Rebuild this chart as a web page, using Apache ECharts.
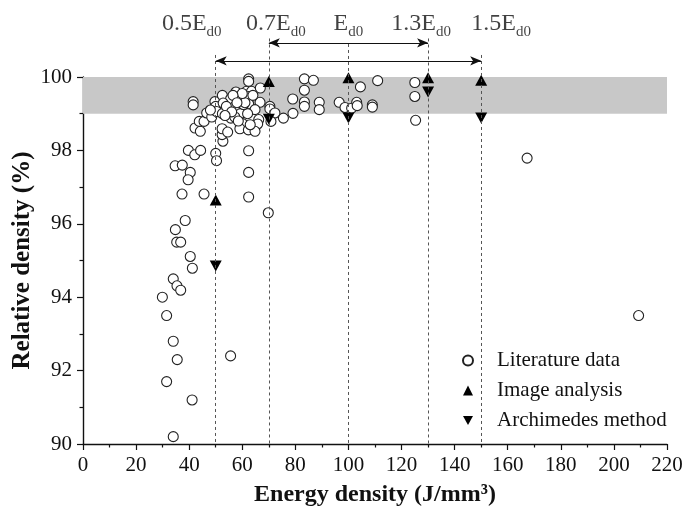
<!DOCTYPE html>
<html>
<head>
<meta charset="utf-8">
<script src="https://cdn.jsdelivr.net/npm/echarts@6/dist/echarts.min.js"></script>
<style>
  html, body { margin: 0; padding: 0; background: #ffffff; }
  #chart { width: 694px; height: 513px; }
</style>
</head>
<body>
<div id="chart"></div>
<script>
// Relative density vs. volumetric energy density
const literatureData = [
  [29.9, 94.0], [31.5, 93.5], [31.5, 91.7], [34.0, 94.5], [34.0, 92.8], [34.0, 90.2],
  [35.4, 94.31], [36.8, 94.19], [35.5, 92.3], [41.1, 91.2], [40.4, 95.11], [41.2, 94.79],
  [34.8, 95.84], [35.3, 95.5], [36.8, 95.5], [38.5, 96.09], [37.3, 96.81], [45.6, 96.81],
  [34.7, 97.58], [37.4, 97.6], [40.4, 97.4], [39.6, 97.2], [39.7, 98.0], [42.1, 97.88],
  [44.3, 98.0], [55.6, 92.4],
  [50.0, 97.92], [50.3, 97.72], [62.4, 97.99], [62.4, 97.4], [62.4, 96.73], [69.8, 96.3],
  [52.7, 98.25], [52.4, 98.43], [52.4, 98.59], [54.5, 98.5], [42.2, 98.61], [44.2, 98.52],
  [43.8, 98.79], [45.6, 98.79], [46.6, 99.02], [48.5, 98.91], [41.5, 99.33], [41.5, 99.24],
  [49.7, 99.33], [50.0, 99.2], [52.5, 99.5], [55.6, 99.4], [52.8, 99.29], [57.6, 99.59],
  [61.6, 99.61], [63.5, 99.61], [62.4, 99.95], [62.4, 99.88], [66.8, 99.7], [59.1, 99.4],
  [62.5, 99.47], [66.7, 99.31], [62.4, 99.27], [57.2, 99.2], [64.8, 99.11], [70.4, 99.2],
  [70.4, 99.13], [50.3, 99.06], [52.5, 99.0], [59.3, 99.0], [62.0, 99.0], [72.3, 99.02],
  [75.5, 98.88], [79.1, 99.01], [55.7, 98.88], [57.2, 98.91], [66.2, 98.84], [60.1, 98.73],
  [65.8, 98.72], [59.1, 98.59], [62.3, 98.56], [64.8, 98.52], [70.8, 98.79], [54.0, 99.2],
  [60.5, 99.25], [56.0, 99.05], [58.5, 98.8], [61.0, 99.3], [64.0, 99.5], [53.5, 98.95],
  [60.0, 99.55], [56.5, 99.5], [63.0, 98.7], [58.0, 99.3], [48.0, 99.1],
  [79.0, 99.4], [83.4, 99.95], [86.8, 99.91], [83.4, 99.64], [83.4, 99.32], [83.4, 99.2],
  [89.0, 99.31], [89.0, 99.11], [96.5, 99.31], [98.7, 99.17], [101.2, 99.15], [103.1, 99.31],
  [103.3, 99.22], [104.5, 99.73], [109.0, 99.24], [109.0, 99.18], [111.0, 99.9],
  [125.0, 99.85], [125.0, 99.47], [125.3, 98.82], [167.3, 97.79], [209.3, 93.5]
];
const imageAnalysisData = [[50, 96.65], [70, 99.88], [100, 99.98], [130, 99.98], [150, 99.91]];
const archimedesData = [[50, 94.85], [70, 98.85], [100, 98.88], [130, 99.59], [150, 98.88]];

// Reference energies as multiples of the nominal energy density E_d0 = 100 J/mm3
const referenceEnergies = [50, 70, 100, 130, 150];
const referencePrefixes = ['0.5', '0.7', '', '1.3', '1.5'];
const innerWindow = [70, 130];
const outerWindow = [50, 150];
const targetBand = [99, 100];

const xTicks = { min: 0, max: 220, interval: 20 };
const yTicks = { min: 90, max: 100, interval: 2 };

const FONT = '"Liberation Serif", "Times New Roman", serif';
const plotLeft = 83, plotRight = 667, plotTop = 77, plotBottom = 444;
const unitY = (plotBottom - plotTop) / (yTicks.max - yTicks.min);
const headroom = 2; // extra y units above the plot used for the annotation layer

// Vertical reach of the annotation marks (in y units, above the 100 line)
const lineTopInner = 101.05, lineTopOuter = 100.6, lineTopCenter = 100.9;
const arrowInnerY = 100.93, arrowOuterY = 100.44, labelY = 101.45;
const labelShift = [-24, 7, 0, -7, 20];

const chart = echarts.init(document.getElementById('chart'), null, { renderer: 'canvas' });

const axisCommon = {
  axisLine: { show: true, onZero: false, lineStyle: { color: '#111', width: 1.4 } },
  axisTick: { show: true, inside: false, length: 6, lineStyle: { color: '#111', width: 1.2 } },
  minorTick: { show: true, splitNumber: 2, length: 3.5, lineStyle: { color: '#111', width: 1.2 } },
  splitLine: { show: false },
  axisLabel: { color: '#111', fontFamily: FONT, fontSize: 21 }
};

const dashed = { color: '#555', width: 1, type: [3, 3] };

const guideLines = referenceEnergies.map(function (e) {
  let top = lineTopInner;
  if (e === outerWindow[0] || e === outerWindow[1]) top = lineTopOuter;
  if (e === 100) top = lineTopCenter;
  return [{ coord: [e, top] }, { coord: [e, yTicks.min] }];
});

const arrowStyle = { color: '#111', width: 1.2, type: 'solid' };

const labelData = referenceEnergies.map(function (e, i) {
  return {
    value: [e, labelY],
    label: {
      show: true,
      position: 'inside',
      offset: [labelShift[i], 0],
      formatter: '{m|' + referencePrefixes[i] + 'E}{s|d0}',
      rich: {
        m: { fontFamily: FONT, fontSize: 24, color: '#111', lineHeight: 24 },
        s: { fontFamily: FONT, fontSize: 15, color: '#111', lineHeight: 15, padding: [16, 0, 0, 0] }
      }
    }
  };
});

const option = {
  backgroundColor: '#ffffff',
  animation: false,
  grid: [
    { left: plotLeft, right: 694 - plotRight, top: plotTop, bottom: 513 - plotBottom, outerBoundsMode: 'none', containLabel: false },
    { left: plotLeft, right: 694 - plotRight, top: plotTop - headroom * unitY, bottom: 513 - plotBottom, outerBoundsMode: 'none', containLabel: false }
  ],
  xAxis: [
    Object.assign({}, axisCommon, {
      type: 'value', gridIndex: 0, min: xTicks.min, max: xTicks.max, interval: xTicks.interval,
      axisLabel: Object.assign({}, axisCommon.axisLabel, { margin: 11 }),
      name: 'Energy density (J/mm³)', nameLocation: 'middle', nameGap: 39, nameMoveOverlap: false,
      nameTextStyle: { fontFamily: FONT, fontSize: 24, fontWeight: 'bold', color: '#111' }
    }),
    { type: 'value', gridIndex: 1, min: xTicks.min, max: xTicks.max, show: false }
  ],
  yAxis: [
    Object.assign({}, axisCommon, {
      type: 'value', gridIndex: 0, min: yTicks.min, max: yTicks.max, interval: yTicks.interval,
      axisLabel: Object.assign({}, axisCommon.axisLabel, { margin: 11 }),
      name: 'Relative density (%)', nameLocation: 'middle', nameGap: 48, nameRotate: 90, nameMoveOverlap: false,
      nameTextStyle: { fontFamily: FONT, fontSize: 25, fontWeight: 'bold', color: '#111' }
    }),
    { type: 'value', gridIndex: 1, min: yTicks.min, max: yTicks.max + headroom, show: false }
  ],
  legend: {
    orient: 'vertical',
    left: 457, top: 345,
    itemWidth: 10, itemHeight: 10, itemGap: 9,
    data: ['Literature data', 'Image analysis', 'Archimedes method'],
    textStyle: { fontFamily: FONT, fontSize: 21, color: '#111', lineHeight: 20, padding: [0, 0, 0, 19] }
  },
  series: [
    {
      // target density band and energy window annotations
      type: 'scatter', xAxisIndex: 1, yAxisIndex: 1, z: 1, silent: true,
      symbolSize: 0, data: labelData,
      markArea: {
        silent: true,
        itemStyle: { color: '#c8c8c8' },
        data: [[{ coord: [xTicks.min, targetBand[0]] }, { coord: [xTicks.max, targetBand[1]] }]]
      },
      markLine: {
        silent: true, symbol: ['none', 'none'], label: { show: false },
        lineStyle: dashed,
        data: guideLines.concat([
          [
            { coord: [innerWindow[0], arrowInnerY], symbol: 'arrow', symbolSize: [7, 11], lineStyle: arrowStyle },
            { coord: [innerWindow[1], arrowInnerY], symbol: 'arrow', symbolSize: [7, 11], lineStyle: arrowStyle }
          ],
          [
            { coord: [outerWindow[0], arrowOuterY], symbol: 'arrow', symbolSize: [7, 11], lineStyle: arrowStyle },
            { coord: [outerWindow[1], arrowOuterY], symbol: 'arrow', symbolSize: [7, 11], lineStyle: arrowStyle }
          ]
        ])
      }
    },
    {
      name: 'Literature data', type: 'scatter', xAxisIndex: 0, yAxisIndex: 0, z: 3, clip: false,
      symbol: 'circle', symbolSize: 10,
      itemStyle: { color: '#ffffff', borderColor: '#222', borderWidth: 1.1, opacity: 1 },
      data: literatureData
    },
    {
      name: 'Image analysis', type: 'scatter', xAxisIndex: 0, yAxisIndex: 0, z: 4, clip: false,
      symbol: 'triangle', symbolSize: [12, 11],
      itemStyle: { color: '#000000', opacity: 1 },
      data: imageAnalysisData
    },
    {
      name: 'Archimedes method', type: 'scatter', xAxisIndex: 0, yAxisIndex: 0, z: 4, clip: false,
      symbol: 'path://M0,0L10,0L5,9Z', symbolSize: [12, 11],
      itemStyle: { color: '#000000', opacity: 1 },
      data: archimedesData
    }
  ]
};

chart.setOption(option);
</script>
</body>
</html>
